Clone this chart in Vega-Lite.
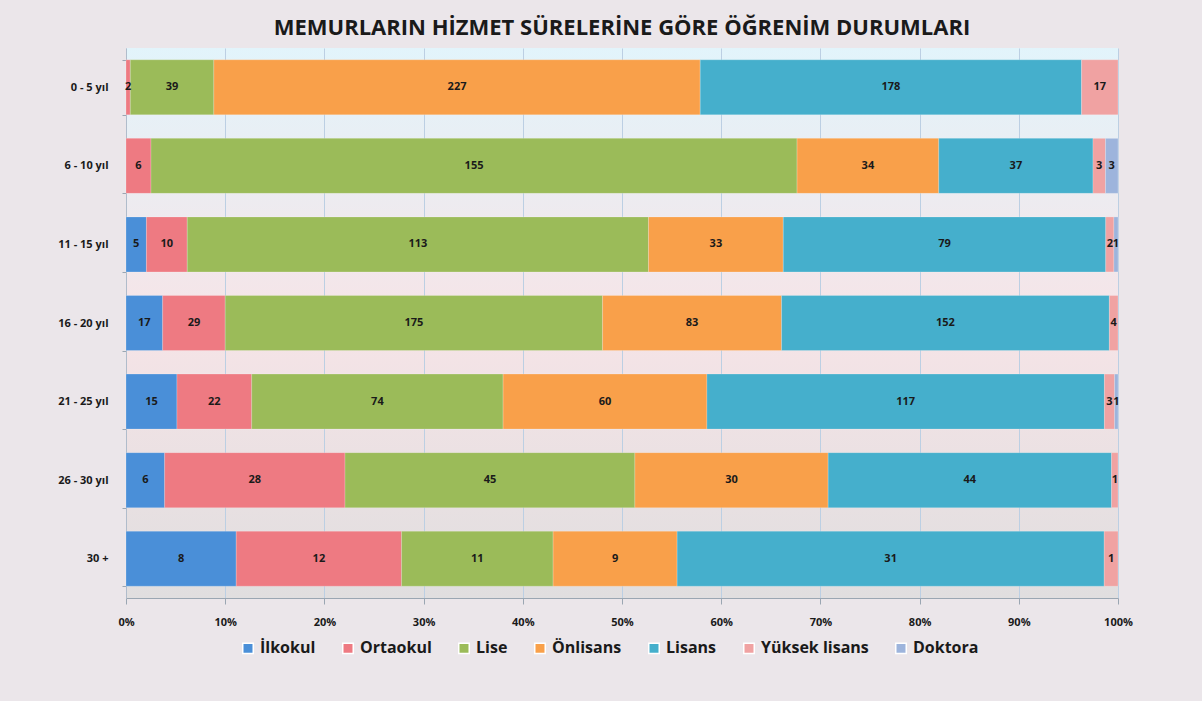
{
  "$schema": "https://vega.github.io/schema/vega-lite/v6.json",
  "autosize": {"type": "none"},
  "width": 992,
  "height": 550,
  "padding": {"left": 126, "top": 48, "right": 84, "bottom": 103},
  "background": "#ebe6ea",
  "view": {"stroke": null, "fill": {"gradient": "linear", "x1": 0, "y1": 0, "x2": 0, "y2": 1, "stops": [{"offset": 0, "color": "#e2f4fb"}, {"offset": 0.5, "color": "#f6e4e7"}, {"offset": 1, "color": "#e0dedf"}]}},
  "title": {"text": "MEMURLARIN HİZMET SÜRELERİNE GÖRE ÖĞRENİM DURUMLARI", "font": "Open Sans", "fontSize": 22, "fontWeight": "bold", "color": "#1a1a1a", "offset": 2},
  "data": {"values": [
    {"grup": "0 - 5 yıl", "durum": "Ortaokul", "sayi": 2},
    {"grup": "0 - 5 yıl", "durum": "Lise", "sayi": 39},
    {"grup": "0 - 5 yıl", "durum": "Önlisans", "sayi": 227},
    {"grup": "0 - 5 yıl", "durum": "Lisans", "sayi": 178},
    {"grup": "0 - 5 yıl", "durum": "Yüksek lisans", "sayi": 17},
    {"grup": "6 - 10 yıl", "durum": "Ortaokul", "sayi": 6},
    {"grup": "6 - 10 yıl", "durum": "Lise", "sayi": 155},
    {"grup": "6 - 10 yıl", "durum": "Önlisans", "sayi": 34},
    {"grup": "6 - 10 yıl", "durum": "Lisans", "sayi": 37},
    {"grup": "6 - 10 yıl", "durum": "Yüksek lisans", "sayi": 3},
    {"grup": "6 - 10 yıl", "durum": "Doktora", "sayi": 3},
    {"grup": "11 - 15 yıl", "durum": "İlkokul", "sayi": 5},
    {"grup": "11 - 15 yıl", "durum": "Ortaokul", "sayi": 10},
    {"grup": "11 - 15 yıl", "durum": "Lise", "sayi": 113},
    {"grup": "11 - 15 yıl", "durum": "Önlisans", "sayi": 33},
    {"grup": "11 - 15 yıl", "durum": "Lisans", "sayi": 79},
    {"grup": "11 - 15 yıl", "durum": "Yüksek lisans", "sayi": 2},
    {"grup": "11 - 15 yıl", "durum": "Doktora", "sayi": 1},
    {"grup": "16 - 20 yıl", "durum": "İlkokul", "sayi": 17},
    {"grup": "16 - 20 yıl", "durum": "Ortaokul", "sayi": 29},
    {"grup": "16 - 20 yıl", "durum": "Lise", "sayi": 175},
    {"grup": "16 - 20 yıl", "durum": "Önlisans", "sayi": 83},
    {"grup": "16 - 20 yıl", "durum": "Lisans", "sayi": 152},
    {"grup": "16 - 20 yıl", "durum": "Yüksek lisans", "sayi": 4},
    {"grup": "21 - 25 yıl", "durum": "İlkokul", "sayi": 15},
    {"grup": "21 - 25 yıl", "durum": "Ortaokul", "sayi": 22},
    {"grup": "21 - 25 yıl", "durum": "Lise", "sayi": 74},
    {"grup": "21 - 25 yıl", "durum": "Önlisans", "sayi": 60},
    {"grup": "21 - 25 yıl", "durum": "Lisans", "sayi": 117},
    {"grup": "21 - 25 yıl", "durum": "Yüksek lisans", "sayi": 3},
    {"grup": "21 - 25 yıl", "durum": "Doktora", "sayi": 1},
    {"grup": "26 - 30 yıl", "durum": "İlkokul", "sayi": 6},
    {"grup": "26 - 30 yıl", "durum": "Ortaokul", "sayi": 28},
    {"grup": "26 - 30 yıl", "durum": "Lise", "sayi": 45},
    {"grup": "26 - 30 yıl", "durum": "Önlisans", "sayi": 30},
    {"grup": "26 - 30 yıl", "durum": "Lisans", "sayi": 44},
    {"grup": "26 - 30 yıl", "durum": "Yüksek lisans", "sayi": 1},
    {"grup": "30 +", "durum": "İlkokul", "sayi": 8},
    {"grup": "30 +", "durum": "Ortaokul", "sayi": 12},
    {"grup": "30 +", "durum": "Lise", "sayi": 11},
    {"grup": "30 +", "durum": "Önlisans", "sayi": 9},
    {"grup": "30 +", "durum": "Lisans", "sayi": 31},
    {"grup": "30 +", "durum": "Yüksek lisans", "sayi": 1}
  ]},
  "transform": [
    {"calculate": "indexof(['İlkokul', 'Ortaokul', 'Lise', 'Önlisans', 'Lisans', 'Yüksek lisans', 'Doktora'], datum.durum)", "as": "sira"}
  ],
  "encoding": {
    "y": {"field": "grup", "type": "nominal", "title": null,
      "sort": ["0 - 5 yıl", "6 - 10 yıl", "11 - 15 yıl", "16 - 20 yıl", "21 - 25 yıl", "26 - 30 yıl", "30 +"],
      "scale": {"paddingInner": 0.3, "paddingOuter": 0.15},
      "axis": {"labelFont": "Open Sans", "labelFontSize": 11, "labelFontWeight": "bold", "labelColor": "#1a1a1a", "labelPadding": 14, "tickBand": "extent", "tickSize": 4, "tickColor": "#9aa6b2", "domainColor": "#b0bccb", "grid": false}},
    "x": {"field": "sayi", "type": "quantitative", "stack": "normalize", "title": null,
      "axis": {"format": ".0%", "values": [0, 0.1, 0.2, 0.3, 0.4, 0.5, 0.6, 0.7, 0.8, 0.9, 1], "labelOverlap": false, "labelFlush": false, "labelFont": "Open Sans", "labelFontSize": 11, "labelFontWeight": "bold", "labelColor": "#1a1a1a", "labelPadding": 12, "tickSize": 6, "tickColor": "#9aa6b2", "domainColor": "#9aa6b2", "grid": true, "gridColor": "#bccfe3", "gridWidth": 1}},
    "order": {"field": "sira", "type": "quantitative", "sort": "ascending"},
    "color": {"field": "durum", "type": "nominal", "title": null,
      "sort": ["İlkokul", "Ortaokul", "Lise", "Önlisans", "Lisans", "Yüksek lisans", "Doktora"],
      "scale": {"domain": ["İlkokul", "Ortaokul", "Lise", "Önlisans", "Lisans", "Yüksek lisans", "Doktora"],
        "range": ["#4a8fd8", "#ee7a82", "#9bbb59", "#f9a04a", "#45afcc", "#f0a2a2", "#9db4dc"]},
      "legend": {"orient": "none", "legendX": 114, "legendY": 592, "direction": "horizontal", "symbolType": "square", "symbolSize": 110, "labelFont": "Open Sans", "labelFontSize": 16, "labelFontWeight": "bold", "labelColor": "#1a1a1a", "columnPadding": 23}}
  },
  "layer": [
    {"mark": {"type": "bar", "stroke": "#ffffff", "strokeOpacity": 0.4, "strokeWidth": 0.5}},
    {"mark": {"type": "text", "font": "Open Sans", "fontSize": 11, "fontWeight": "bold"},
      "encoding": {
        "x": {"field": "sayi", "type": "quantitative", "stack": "normalize", "bandPosition": 0.5},
        "text": {"field": "sayi", "type": "quantitative"},
        "fill": {"value": "#1a1a1a"}
      }}
  ]
}
